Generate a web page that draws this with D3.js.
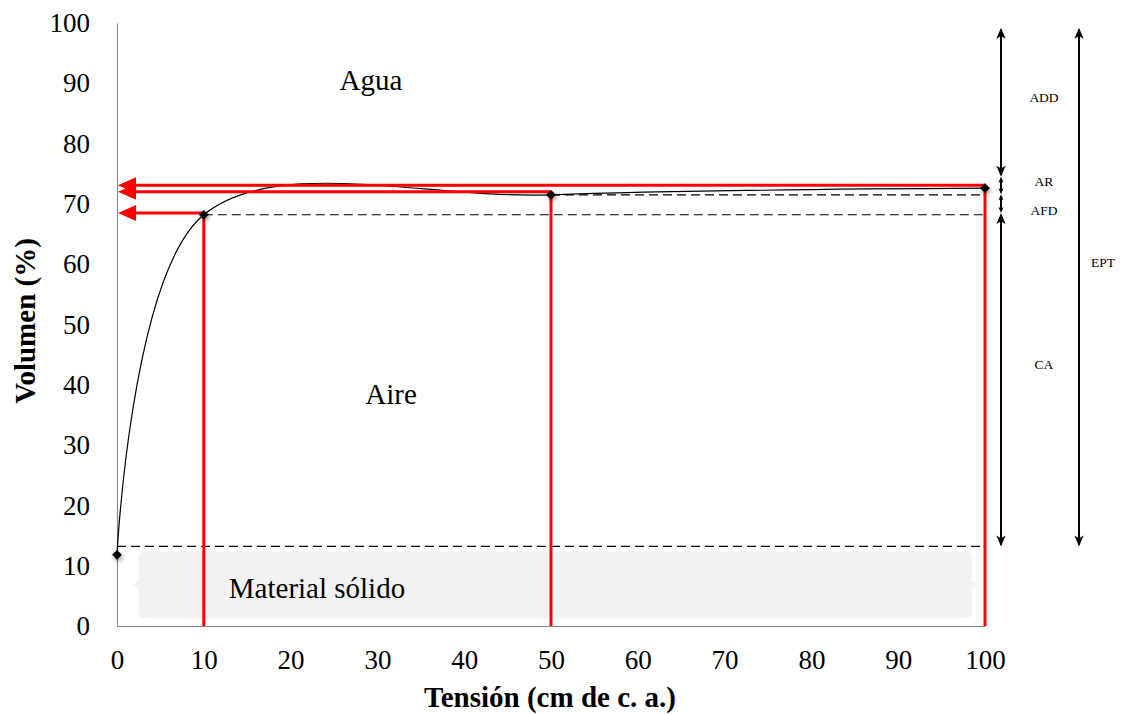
<html>
<head>
<meta charset="utf-8">
<style>
body { margin: 0; background: #fff; }
svg { font-family: "Times New Roman", "Liberation Serif", serif; }
.tick text { font-size: 27px; fill: #000; }
.axis .domain { stroke: #898989; stroke-width: 1.2; }
.ttl { font-size: 29px; font-weight: bold; }
.region { font-size: 29px; }
.lab { font-size: 13.5px; }
</style>
</head>
<body>
<div id="chart"></div>
<script src="https://cdnjs.cloudflare.com/ajax/libs/d3/7.8.5/d3.min.js"></script>
<script>
// retention curve points (tension, volume %)
const tension = [0, 10, 50, 100];
const volume = [11.8, 68.2, 71.5, 72.6];

// red guide lines: read tension -> volume
const guideX = [10, 50, 100];
const guideY = [68.5, 72.0, 73.1];

// dashed reference levels
const solidLevel = 13.2;

// stacked annotation bounds (top to bottom) and names
const segBounds = [99.2, 74.5, 71.6, 68.5, 13.2];
const segNames = ['ADD', 'AR', 'AFD', 'CA'];
const segLabelY = [87.7, 73.8, 69.0, 43.4];

const xTicks = [0, 10, 20, 30, 40, 50, 60, 70, 80, 90, 100];
const yTicks = [0, 10, 20, 30, 40, 50, 60, 70, 80, 90, 100];

const W = 1123, H = 714;
const svg = d3.select('#chart').append('svg').attr('width', W).attr('height', H);

const x = d3.scaleLinear().domain([0, 100]).range([117, 985]);
const y = d3.scaleLinear().domain([0, 100]).range([626, 23]);

const defs = svg.append('defs');
const sh = defs.append('filter').attr('id', 'sh').attr('x', '-100%').attr('y', '-100%').attr('width', '300%').attr('height', '300%');
sh.append('feDropShadow').attr('dx', 1).attr('dy', 2).attr('stdDeviation', 2).attr('flood-color', '#000').attr('flood-opacity', 0.45);

// solid material box (callout shape)
const bx0 = x(2.5), bx1 = x(98.5), by0 = y(12.4), by1 = y(1.3), r = 7, bm = (by0 + by1) / 2;
svg.append('path')
  .attr('d', `M${bx0 + r},${by0} H${bx1 - r} Q${bx1},${by0} ${bx1},${by0 + r} V${bm - 4} L${bx1 + 5},${bm} L${bx1},${bm + 4} V${by1 - r} Q${bx1},${by1} ${bx1 - r},${by1} H${bx0 + r} Q${bx0},${by1} ${bx0},${by1 - r} V${bm + 4} L${bx0 - 5},${bm} L${bx0},${bm - 4} V${by0 + r} Q${bx0},${by0} ${bx0 + r},${by0} Z`)
  .attr('fill', '#f2f2f2');

// axes
svg.append('g').attr('class', 'axis').attr('transform', `translate(${x(0)},0)`)
  .call(d3.axisLeft(y).tickValues(yTicks).tickSize(0).tickSizeOuter(0).tickPadding(27))
  .attr('font-family', null).attr('font-size', null);
svg.append('g').attr('class', 'axis').attr('transform', `translate(0,${y(0)})`)
  .call(d3.axisBottom(x).tickValues(xTicks).tickSize(0).tickSizeOuter(0).tickPadding(24))
  .attr('font-family', null).attr('font-size', null);

// dashed reference lines
const dash = [
  [[0, solidLevel], [100, solidLevel]],
  [[tension[1], volume[1]], [100, volume[1]]],
  [[tension[2], volume[2]], [100, volume[2]]]
];
svg.selectAll('.dash').data(dash).join('line')
  .attr('x1', d => x(d[0][0])).attr('y1', d => y(d[0][1]))
  .attr('x2', d => x(d[1][0])).attr('y2', d => y(d[1][1]))
  .attr('stroke', '#000').attr('stroke-width', 1.1).attr('stroke-dasharray', '9,5');

// smoothed curve
const pts = tension.map((t, i) => [t, volume[i]]);
svg.append('path').datum(pts)
  .attr('d', d3.line().x(d => x(d[0])).y(d => y(d[1])).curve(d3.curveCatmullRom))
  .attr('fill', 'none').attr('stroke', '#000').attr('stroke-width', 1.2);

// red guides
const red = '#ff0000';
guideX.forEach((gxv, i) => {
  svg.append('line').attr('x1', x(gxv)).attr('x2', x(gxv)).attr('y1', y(guideY[i])).attr('y2', y(0))
    .attr('stroke', red).attr('stroke-width', 3);
  svg.append('line').attr('x1', x(0) + 14).attr('x2', x(gxv)).attr('y1', y(guideY[i])).attr('y2', y(guideY[i]))
    .attr('stroke', red).attr('stroke-width', 3);
  const ty = y(guideY[i]), tx = x(0) + 1;
  svg.append('path').attr('d', `M${tx},${ty} L${tx + 18},${ty - 8} L${tx + 18},${ty + 8} Z`).attr('fill', red);
});

// markers
svg.selectAll('.pt').data(pts).join('path')
  .attr('d', d3.symbol(d3.symbolDiamond2, 60))
  .attr('transform', d => `translate(${x(d[0])},${y(d[1])})`)
  .attr('fill', '#000').attr('filter', 'url(#sh)');

// region labels
svg.append('text').attr('class', 'region').attr('x', 371).attr('y', 80).attr('dy', '0.35em').attr('text-anchor', 'middle').text('Agua');
svg.append('text').attr('class', 'region').attr('x', 391).attr('y', 394).attr('dy', '0.35em').attr('text-anchor', 'middle').text('Aire');
svg.append('text').attr('class', 'region').attr('x', 317).attr('y', 588).attr('dy', '0.35em').attr('text-anchor', 'middle').text('Material sólido');

// right-hand annotation arrows
function head(px, tipY, dir, size) {
  const h = size, w = size * 0.42;
  return `M${px},${tipY} L${px - w},${tipY + dir * h} L${px},${tipY + dir * h * 0.75} L${px + w},${tipY + dir * h} Z`;
}
const ax = 1001, ex = 1079;
for (let i = 0; i < segNames.length; i++) {
  const y0 = y(segBounds[i]), y1 = y(segBounds[i + 1]);
  svg.append('line').attr('x1', ax).attr('x2', ax).attr('y1', y0 + 2).attr('y2', y1 - 2).attr('stroke', '#000').attr('stroke-width', 2);
  const big = (y1 - y0) > 40 ? 11 : 6;
  svg.append('path').attr('d', head(ax, y0, 1, big)).attr('fill', '#000');
  svg.append('path').attr('d', head(ax, y1, -1, big)).attr('fill', '#000');
  svg.append('text').attr('class', 'lab').attr('x', 1044).attr('y', y(segLabelY[i])).attr('dy', '0.35em')
    .attr('text-anchor', 'middle').text(segNames[i]);
}
svg.append('line').attr('x1', ex).attr('x2', ex).attr('y1', y(segBounds[0]) + 2).attr('y2', y(solidLevel) - 2).attr('stroke', '#000').attr('stroke-width', 2);
svg.append('path').attr('d', head(ex, y(segBounds[0]), 1, 11)).attr('fill', '#000');
svg.append('path').attr('d', head(ex, y(solidLevel), -1, 11)).attr('fill', '#000');
svg.append('text').attr('class', 'lab').attr('x', 1103).attr('y', y(60.4)).attr('dy', '0.35em').attr('text-anchor', 'middle').text('EPT');

// axis titles
svg.append('text').attr('class', 'ttl').attr('x', 550).attr('y', 697).attr('dy', '0.35em').attr('text-anchor', 'middle').text('Tensión (cm de c. a.)');
svg.append('text').attr('class', 'ttl').attr('transform', 'translate(25,321) rotate(-90)').attr('dy', '0.35em').attr('text-anchor', 'middle').text('Volumen (%)');
</script>
</body>
</html>
